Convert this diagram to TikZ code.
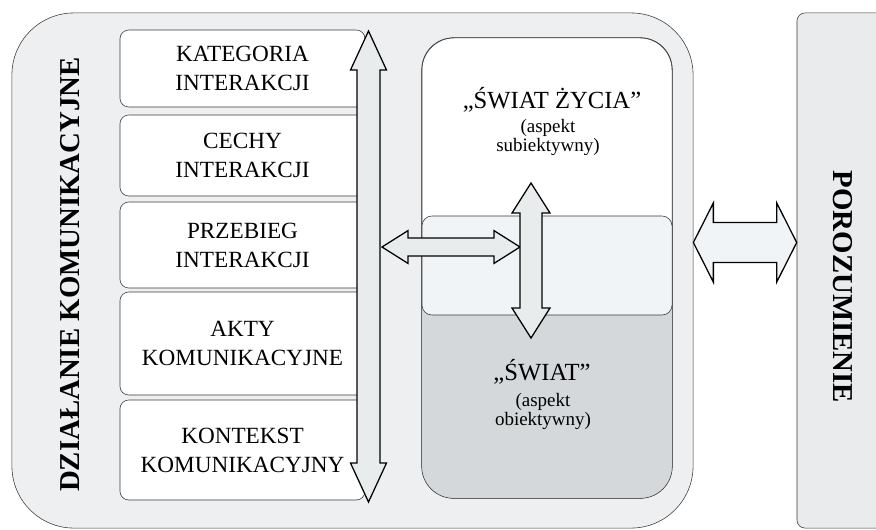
\documentclass[tikz,border=0pt]{standalone}
\usepackage{fontspec}
\setmainfont{Liberation Serif}
\usetikzlibrary{calc,
positioning}

\definecolor{framebg}{HTML}{EDEFF0}
\definecolor{agreebg}{HTML}{E9EBEC}
\definecolor{worldgray}{HTML}{D4D8DB}
\definecolor{bandfill}{HTML}{F1F4F7}
\definecolor{arrowfill}{HTML}{E9ECED}
\definecolor{linegray}{HTML}{3A3A3A}

% double block arrow: tips #2 and #3, half shaft #4, half head #5, head length #6
\newcommand*{\blockarrow}[6][]{%
  \draw [block arrow, #1] (#2)
  -- ($(#2)!#6!(#3)!#5!90:(#3)$)
  -- ($(#2)!#6!(#3)!#4!90:(#3)$)
  -- ($(#3)!#6!(#2)!#4!-90:(#2)$)
  -- ($(#3)!#6!(#2)!#5!-90:(#2)$)
  -- (#3)
  -- ($(#3)!#6!(#2)!#5!90:(#2)$)
  -- ($(#3)!#6!(#2)!#4!90:(#2)$)
  -- ($(#2)!#6!(#3)!#4!-90:(#3)$)
  -- ($(#2)!#6!(#3)!#5!-90:(#3)$)
  -- cycle;
}

\begin{document}
\begin{tikzpicture} [x=0.025cm, y=-0.025cm,
    every node/.style={font=\fontsize{16.5}{20.6}\selectfont},
    stage node/.style={rectangle, rounded corners=0.22cm, draw=linegray,
        fill=white, align=center, inner sep=0pt, minimum width=6.125cm},
    world node/.style={rectangle, rounded corners=0.8cm, draw=linegray,
        fill=white, inner sep=0pt, minimum width=6.25cm, minimum height=11.5cm},
    band node/.style={rectangle, rounded corners=0.25cm, draw=linegray,
        fill=bandfill, inner sep=0pt, minimum width=6.25cm, minimum height=2.475cm},
    side label/.style={font=\fontsize{20.5}{24}\selectfont\bfseries},
    world title/.style={font=\fontsize{17.5}{21}\selectfont},
    world note/.style={font=\fontsize{13.5}{13.5}\selectfont, align=center},
    block arrow/.style={draw=black, line width=0.9pt, line join=miter, fill=arrowfill}]

  \useasboundingbox (0,0) rectangle (876,529);
  \clip (0,0) rectangle (876,529);

  % outer frame and the right-hand box
  \node [rectangle, rounded corners=1.55cm, draw=linegray, fill=framebg,
    minimum width=17.025cm, minimum height=12.875cm] (dzialanie) at (352.5,270.5) {};
  \node [rectangle, rounded corners=0.2cm, draw=linegray, fill=agreebg,
    minimum width=2.325cm, minimum height=12.875cm] (porbox) at (843.5,270.5) {};

  \node [side label, rotate=90] (dzialanie_txt) at (70,274.5) {DZIAŁANIE KOMUNIKACYJNE};
  \node [side label, rotate=-90] (porozumienie) at (843,287) {POROZUMIENIE};

  % stages of the interaction
  \node [stage node, minimum height=1.925cm] (kategoria) at (242.5,68.5) {KATEGORIA\\INTERAKCJI};
  \node [stage node, minimum height=2.025cm] (cechy) at (242.5,155.5) {CECHY\\INTERAKCJI};
  \node [stage node, minimum height=2.15cm] (przebieg) at (242.5,245) {PRZEBIEG\\INTERAKCJI};
  \node [stage node, minimum height=2.575cm] (akty) at (242.5,343.5) {AKTY\\KOMUNIKACYJNE};
  \node [stage node, minimum height=2.5cm] (kontekst) at (242.5,450) {KONTEKST\\KOMUNIKACYJNY};

  % life world / world
  \node [world node] (swiat) at (547,268) {};
  \begin{scope}
    \clip [rounded corners=0.8cm] (swiat.north west) rectangle (swiat.south east);
    \fill [worldgray] (422,300) rectangle (swiat.south east);
  \end{scope}
  \node [band node] (styk) at (547,265.5) {};
  \draw [linegray, rounded corners=0.8cm] (swiat.north west) rectangle (swiat.south east);

  \node [world title] (zycie_txt) at (552,100) {„ŚWIAT ŻYCIA”};
  \node [world note] (zycie_note) at (548,137.5) {(aspekt\\subiektywny)};
  \node [world title] (swiat_txt) at (542,372) {„ŚWIAT”};
  \node [world note] (swiat_note) at (543,411.5) {(aspekt\\obiektywny)};

  % arrows
  \coordinate (pion top) at (368.5,31);
  \coordinate (pion bot) at (368.5,502);
  \coordinate (poz l) at (382,247);
  \coordinate (poz r) at (520,247);
  \coordinate (sw top) at (531,183);
  \coordinate (sw bot) at (531,338);
  \coordinate (zgoda l) at ($(dzialanie.east) + (0,-28)$);
  \coordinate (zgoda r) at ($(porbox.west) + (0,-28)$);

  \blockarrow{poz l}{poz r}{0.225cm}{0.41cm}{0.65cm}
  \blockarrow{sw top}{sw bot}{0.275cm}{0.475cm}{0.75cm}
  \blockarrow{pion top}{pion bot}{0.2875cm}{0.45cm}{0.975cm}
  \blockarrow[fill=bandfill]{zgoda l}{zgoda r}{0.5cm}{0.99cm}{0.5cm}

\end{tikzpicture}
\end{document}
